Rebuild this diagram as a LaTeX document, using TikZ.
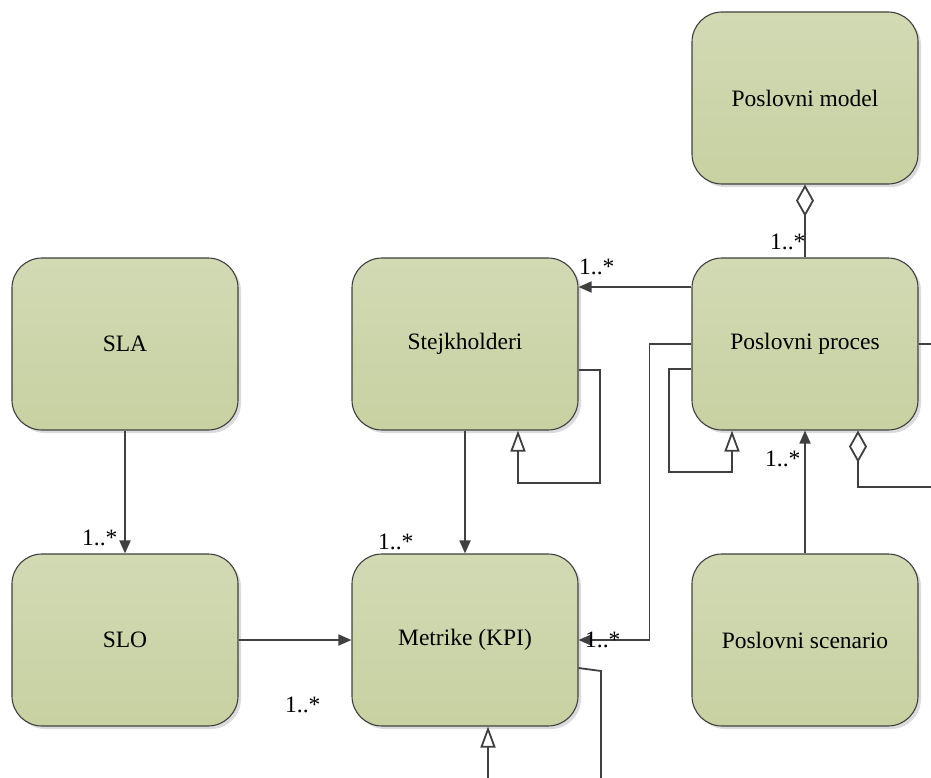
\documentclass[tikz,border=0pt]{standalone}
\usepackage{fontspec}
\setmainfont{Liberation Serif}
\usetikzlibrary{arrows.meta,shadows}
\definecolor{boxtop}{RGB}{210,218,180}
\definecolor{boxbot}{RGB}{199,209,161}
\definecolor{edgegray}{RGB}{64,64,64}
\tikzset{
  entity/.style={rectangle, rounded corners=30bp, minimum width=226bp,
    minimum height=172bp, inner sep=0pt, draw=edgegray, line width=1.1bp,
    top color=boxtop, bottom color=boxbot,
    drop shadow={shadow xshift=3bp, shadow yshift=-3bp, fill=black!14, opacity=1},
    font=\fontsize{23.5bp}{28bp}\selectfont},
  conn/.style={draw=edgegray, line width=1.8bp},
  arr/.style={conn, -{Triangle[length=13bp,width=11bp]}},
  gen/.style={conn, -{Triangle[open,length=21bp,width=15bp,fill=white]}},
  agg/.style={conn, {Diamond[open,length=32bp,width=18bp,fill=white]}-},
  mult/.style={anchor=base west, inner sep=0pt, font=\fontsize{23.5bp}{28bp}\selectfont},
}
\begin{document}
\begin{tikzpicture}[x=1bp, y=-1bp]
  \useasboundingbox (0,0) rectangle (931,778);
  \clip (0,0) rectangle (931,778);

  % entities
  \node[entity] (pm)  at (805,98)  {Poslovni model};
  \node[entity] (sla) at (125,344) {SLA};
  \node[entity] (stk) at (465,344) {Stejkholderi};
  \node[entity] (pp)  at (805,344) {Poslovni proces};
  \node[entity] (slo) at (125,640) {SLO};
  \node[entity] (kpi) at (465,640) {Metrike (KPI)};
  \node[entity] (psc) at (805,640) {Poslovni scenario};

  % free ends leaving the drawing area
  \coordinate (ppOut)   at (945,344);
  \coordinate (aggOut)  at (945,487);
  \coordinate (kpiOut)  at (601,795);
  \coordinate (kpiBend) at (601,671);
  \coordinate (genIn)   at (488,795);

  % associations
  \draw[arr] (sla) -- (slo);
  \draw[arr] (slo) -- (kpi);
  \draw[arr] (stk) -- (kpi);
  \draw[arr] ([yshift=57bp]pp.west) -- ([yshift=57bp]stk.east);
  \draw[arr] (pp.west) -- ++(-42,0) |- (kpi.east);
  \draw[arr] (psc) -- (pp);

  % aggregations
  \draw[agg] (pm) -- (pp);
  \draw[agg] ([xshift=53bp]pp.south) |- (aggOut);

  % generalizations
  \draw[gen] ([yshift=-26bp]stk.east) -| (600,483) -| ([xshift=53bp]stk.south);
  \draw[gen] ([yshift=-25bp]pp.west) -| (669,472) -| ([xshift=-73bp]pp.south);
  \draw[gen] (genIn) -- ([xshift=23bp]kpi.south);

  % lines continuing off the page
  \draw[conn] (pp.east) -- (ppOut);
  \draw[conn] ([yshift=-28bp]kpi.east) -- (kpiBend) -- (kpiOut);

  % multiplicities
  \node[mult] (m1) at (82,545)  {1..*};
  \node[mult] (m2) at (770,249) {1..*};
  \node[mult] (m3) at (579,274) {1..*};
  \node[mult] (m4) at (378,549) {1..*};
  \node[mult] (m5) at (285,712) {1..*};
  \node[mult] (m6) at (765,466) {1..*};
  \node[mult] (m7) at (585,647) {1..*};
\end{tikzpicture}
\end{document}
